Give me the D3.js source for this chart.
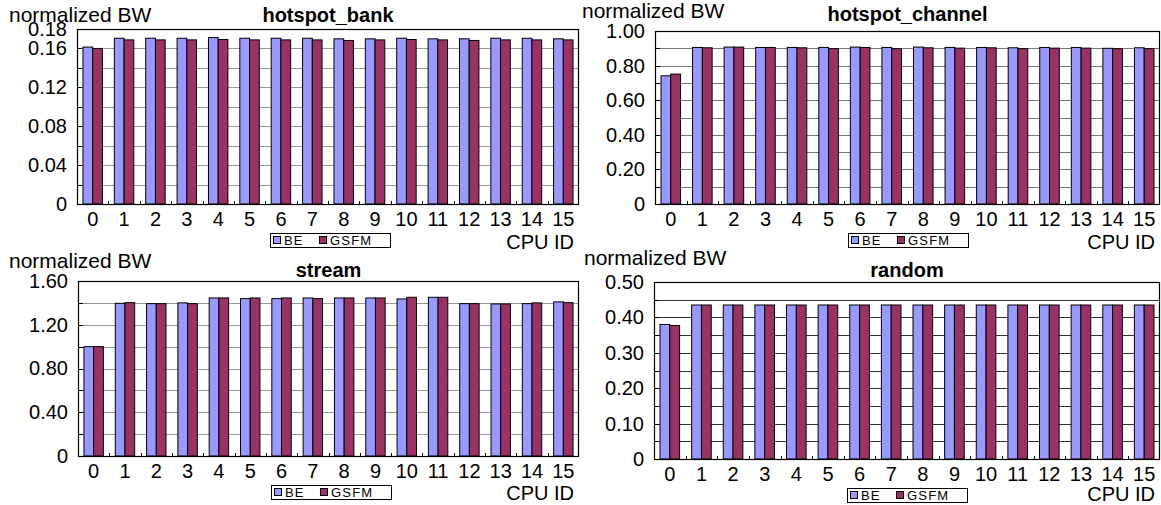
<!DOCTYPE html>
<html>
<head>
<meta charset="utf-8">
<script src="https://cdn.jsdelivr.net/npm/d3@7"></script>
<style>
  body { margin: 0; background: #fff; }
  svg { display: block; font-family: "Liberation Sans", Arial, sans-serif; }
</style>
</head>
<body>
<svg id="chart" width="1161" height="505"></svg>
<script>
// CPU identifiers on the x axis
const cpuIds = ["0","1","2","3","4","5","6","7","8","9","10","11","12","13","14","15"];
const seriesNames = ["BE", "GSFM"];
const seriesColors = ["#9999ff", "#993366"];

// normalized bandwidth per CPU, hotspot_bank workload
const bankBE   = [0.1614,0.1705,0.1705,0.1705,0.1712,0.1705,0.1705,0.1705,0.1699,0.1699,0.1705,0.1699,0.1699,0.1705,0.1705,0.1699];
const bankGSFM = [0.1600,0.1688,0.1688,0.1688,0.1692,0.1688,0.1688,0.1688,0.1682,0.1688,0.1692,0.1688,0.1682,0.1688,0.1688,0.1688];
const bankTicks = [0, 0.04, 0.08, 0.12, 0.16, 0.18];

// hotspot_channel workload
const channelBE   = [0.741,0.905,0.907,0.905,0.905,0.905,0.907,0.905,0.907,0.905,0.905,0.903,0.905,0.905,0.900,0.903];
const channelGSFM = [0.751,0.903,0.907,0.905,0.903,0.898,0.905,0.898,0.903,0.901,0.903,0.898,0.901,0.901,0.898,0.898];
const channelTicks = [0, 0.2, 0.4, 0.6, 0.8, 1.0];

// stream workload
const streamBE   = [1.000,1.396,1.393,1.400,1.445,1.439,1.439,1.445,1.445,1.445,1.436,1.451,1.393,1.390,1.393,1.409];
const streamGSFM = [1.000,1.402,1.393,1.393,1.445,1.445,1.445,1.439,1.445,1.445,1.451,1.451,1.393,1.390,1.400,1.402];
const streamTicks = [0, 0.4, 0.8, 1.2, 1.6];

// random workload
const randomBE   = [0.380,0.435,0.435,0.435,0.435,0.435,0.435,0.435,0.435,0.435,0.435,0.435,0.435,0.435,0.435,0.435];
const randomGSFM = [0.377,0.435,0.435,0.435,0.435,0.435,0.435,0.435,0.435,0.435,0.435,0.435,0.435,0.435,0.435,0.435];
const randomTicks = [0, 0.1, 0.2, 0.3, 0.4, 0.5];

const svg = d3.select("#chart");
const FONT = "Liberation Sans, Arial, sans-serif";

const panels = [
  { title: "hotspot_bank", be: bankBE, gsfm: bankGSFM, ticks: bankTicks, max: 0.18, step: 0.02,
    box: { left: 77, top: 29, right: 579, bottom: 204 }, grid: "#999",
    yLabel: [9, 22], titleY: 22, unitY: 249 },
  { title: "hotspot_channel", be: channelBE, gsfm: channelGSFM, ticks: channelTicks, max: 1.0, step: 0.1,
    box: { left: 655, top: 31, right: 1160, bottom: 204 }, grid: "#777",
    yLabel: [582, 18], titleY: 21, unitY: 249 },
  { title: "stream", be: streamBE, gsfm: streamGSFM, ticks: streamTicks, max: 1.6, step: 0.2,
    box: { left: 78, top: 281, right: 579, bottom: 456 }, grid: "#999",
    yLabel: [9, 268], titleY: 277, unitY: 500 },
  { title: "random", be: randomBE, gsfm: randomGSFM, ticks: randomTicks, max: 0.5, step: 0.05,
    box: { left: 654, top: 282, right: 1160, bottom: 459 }, grid: "#333",
    yLabel: [584, 265], titleY: 277, unitY: 501 }
];

panels.forEach(p => {
  const b = p.box;
  const g = svg.append("g");

  const x0 = d3.scaleBand().domain(cpuIds).range([b.left, b.right]).padding(0);
  const bw = x0.bandwidth();
  const x1 = d3.scaleBand().domain(seriesNames).range([bw * 0.19, bw * 0.81]).padding(0);
  const y = d3.scaleLinear().domain([0, p.max]).range([b.bottom, b.top]);

  // horizontal gridlines
  const gridVals = d3.range(1, Math.round(p.max / p.step)).map(i => i * p.step);
  g.append("g").selectAll("line").data(gridVals).join("line")
    .attr("x1", b.left).attr("x2", b.right)
    .attr("y1", d => Math.round(y(d)) + 0.5).attr("y2", d => Math.round(y(d)) + 0.5)
    .attr("stroke", p.grid).attr("stroke-width", 1);

  // inner tick marks on the value axis
  g.append("g").selectAll("line").data(gridVals).join("line")
    .attr("x1", b.left).attr("x2", b.left + 5)
    .attr("y1", d => Math.round(y(d)) + 0.5).attr("y2", d => Math.round(y(d)) + 0.5)
    .attr("stroke", "#000");

  // bars
  const rows = cpuIds.map((id, i) => ({ id, vals: [p.be[i], p.gsfm[i]] }));
  const grp = g.append("g").selectAll("g").data(rows).join("g")
    .attr("transform", d => `translate(${x0(d.id)},0)`);
  grp.selectAll("rect").data(d => d.vals.map((v, k) => ({ k, v }))).join("rect")
    .attr("x", d => x1(seriesNames[d.k]))
    .attr("width", x1.bandwidth())
    .attr("y", d => y(d.v))
    .attr("height", d => y(0) - y(d.v))
    .attr("fill", d => seriesColors[d.k])
    .attr("stroke", "#000").attr("stroke-width", 1);

  // plot frame
  g.append("rect")
    .attr("x", b.left + 0.5).attr("y", b.top + 0.5)
    .attr("width", b.right - b.left - 1).attr("height", b.bottom - b.top)
    .attr("fill", "none").attr("stroke", "#000").attr("stroke-width", 1.2);

  // category axis
  const xAxis = d3.axisBottom(x0).tickSize(0).tickPadding(8);
  const xa = g.append("g").attr("transform", `translate(0,${b.bottom})`).call(xAxis);
  xa.select(".domain").remove();
  xa.selectAll("text").attr("font-size", 20).attr("fill", "#000").attr("font-family", FONT);
  // small boundary ticks between categories
  g.append("g").selectAll("line").data(cpuIds.slice(1)).join("line")
    .attr("x1", d => Math.round(x0(d)) + 0.5).attr("x2", d => Math.round(x0(d)) + 0.5)
    .attr("y1", b.bottom - 3).attr("y2", b.bottom)
    .attr("stroke", "#000");

  // value axis labels
  const yAxis = d3.axisLeft(y).tickValues(p.ticks).tickSize(0).tickPadding(10)
    .tickFormat(d => d === 0 ? "0" : d3.format(".2f")(d));
  const ya = g.append("g").attr("transform", `translate(${b.left},0)`).call(yAxis);
  ya.select(".domain").remove();
  ya.selectAll("text").attr("font-size", 20).attr("fill", "#000").attr("font-family", FONT);

  // axis titles and chart title
  g.append("text").attr("x", p.yLabel[0]).attr("y", p.yLabel[1])
    .attr("font-size", 21).text("normalized BW");
  g.append("text").attr("x", (b.left + b.right) / 2).attr("y", p.titleY)
    .attr("text-anchor", "middle").attr("font-size", 20).attr("font-weight", "bold")
    .text(p.title);
  g.append("text").attr("x", b.right - 5).attr("y", p.unitY)
    .attr("text-anchor", "end").attr("font-size", 20).text("CPU ID");

  // legend
  const lx = b.left + 193, ly = b.bottom + 29;
  const lg = g.append("g").attr("transform", `translate(${lx},${ly})`);
  lg.append("rect").attr("x", 0.5).attr("y", 0.5).attr("width", 120).attr("height", 14)
    .attr("fill", "#fff").attr("stroke", "#000");
  const items = [{ n: seriesNames[0], c: seriesColors[0], x: 3 }, { n: seriesNames[1], c: seriesColors[1], x: 49 }];
  items.forEach(it => {
    lg.append("rect").attr("x", it.x + 0.5).attr("y", 3.5).attr("width", 7).attr("height", 7)
      .attr("fill", it.c).attr("stroke", "#000");
    lg.append("text").attr("x", it.x + 11).attr("y", 12).attr("font-size", 13)
      .attr("letter-spacing", 1.2).text(it.n);
  });
});
</script>
</body>
</html>
